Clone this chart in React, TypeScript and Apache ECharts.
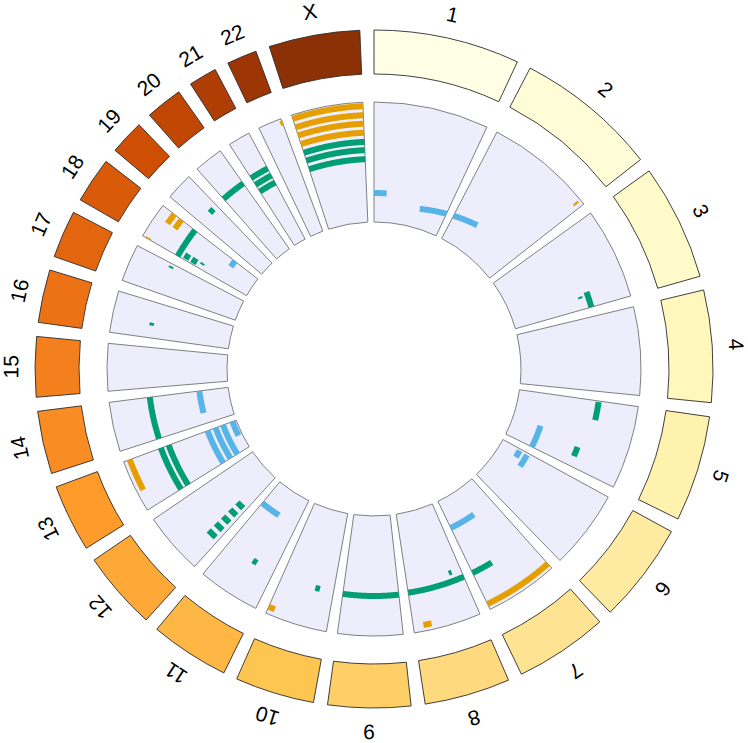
import React, { useEffect, useRef } from 'react';
import * as echarts from 'echarts';

// ---------- data ----------
const chromosomes = ['1', '2', '3', '4', '5', '6', '7', '8', '9', '10', '11', '12', '13', '14', '15', '16', '17', '18', '19', '20', '21', '22', 'X'];
const chromLengthsMb = [249.25, 243.2, 198.02, 191.15, 180.92, 171.12, 159.14, 146.36, 141.21, 135.53, 135.01, 133.85, 115.17, 107.35, 102.53, 90.35, 81.2, 78.08, 59.13, 63.03, 48.13, 51.3, 155.27];
const gapMb = 23.9;
const trackMax = 120;

// [chromosome, startMb, endMb, levelAtStart, levelAtEnd, weightClass]
type Seg = [string, number, number, number, number, number];

const orangeSegments: Seg[] = [
  ['X', 0, 155.27, 116, 116, 3],
  ['X', 0, 155.27, 107, 107, 3],
  ['X', 0, 155.27, 98.5, 98.5, 3],
  ['X', 0, 155.27, 89.5, 89.5, 3],
  ['22', 49.5, 49.5, 113, 118, 2],
  ['2', 229, 234, 114, 114, 3],
  ['7', 0, 159.14, 114, 114, 3],
  ['8', 106, 124, 113.7, 113.7, 3],
  ['10', 121, 135.53, 113, 113, 3],
  ['13', 42.5, 115.17, 113.5, 113.5, 3],
  ['18', 0, 3, 113.7, 113.7, 3],
  ['18', 52, 78.08, 105.6, 105.6, 3],
  ['18', 52, 78.08, 96.5, 96.5, 3],
];

const greenSegments: Seg[] = [
  ['X', 0, 155.27, 80.3, 80.3, 3],
  ['X', 0, 155.27, 72, 72, 3],
  ['X', 0, 155.27, 63, 63, 3],
  ['3', 157.6, 198.02, 79, 79, 3],
  ['3', 166.4, 166.4, 69, 73.5, 1],
  ['5', 3, 49, 80, 80, 3],
  ['5', 128, 154, 71, 71, 3],
  ['7', 104, 159.14, 79.5, 79.5, 3],
  ['8', 0, 146.36, 79.3, 79.3, 3],
  ['8', 28.7, 28.7, 68, 73, 2],
  ['9', 0, 141.21, 80, 80, 3],
  ['10', 35, 47, 79.5, 79.5, 3],
  ['11', 48, 60, 79.5, 79.5, 3],
  ['12', 10, 34, 84, 84, 3],
  ['12', 10, 34, 74, 74, 3],
  ['12', 10, 34, 64, 64, 3],
  ['12', 10, 34, 54, 54, 3],
  ['12', 10, 34, 44, 44, 3],
  ['13', 0, 115.17, 80.3, 80.3, 3],
  ['13', 0, 115.17, 72, 72, 3],
  ['14', 0, 107.35, 79, 79, 3],
  ['16', 34.8, 34.8, 77.5, 82, 2],
  ['17', 72, 72, 77.5, 82.5, 1],
  ['18', 0, 78.08, 79.5, 79.5, 3],
  ['18', 3, 18.5, 71, 71, 3],
  ['18', 3, 19, 62.6, 62.6, 3],
  ['18', 15.6, 15.6, 52, 56.5, 1],
  ['19', 34, 47, 79.5, 79.5, 3],
  ['20', 0, 63.03, 80, 80, 3],
  ['21', 0, 48.13, 80, 80, 3],
  ['21', 0, 48.13, 72, 72, 3],
  ['21', 0, 48.13, 64, 64, 3],
];

const blueSegments: Seg[] = [
  ['1', 0, 41, 29, 29, 3],
  ['1', 159, 249.25, 19.5, 24.3, 3],
  ['2', 0, 82.5, 25.6, 30, 3],
  ['5', 106.6, 180.92, 29, 29, 3],
  ['6', 6, 32, 20, 20, 3],
  ['6', 7, 50, 28.5, 28.5, 3],
  ['7', 72.7, 159.14, 29.5, 29.5, 3],
  ['11', 67, 135.01, 27.5, 27.5, 3],
  ['13', 0, 115.17, 30.5, 30.5, 3],
  ['13', 0, 115.17, 22, 22, 3],
  ['13', 0, 115.17, 14, 14, 3],
  ['13', 57, 115.17, 4, 4, 3],
  ['14', 34.5, 107.35, 29, 29, 3],
  ['18', 56, 78.08, 29, 29, 3],
];

// ---------- styles ----------
const groupColors = ['#E69F00', '#009E73', '#56B4E9'];
const weightWidths: Record<number, number> = { 1: 2, 2: 3, 3: 6 };
const ylorbr = ['#ffffe5', '#fff7bc', '#fee391', '#fec44f', '#fe9929', '#ec7014', '#cc4c02', '#993404', '#662506'];

function hexToRgb(h: string) {
  return [parseInt(h.slice(1, 3), 16), parseInt(h.slice(3, 5), 16), parseInt(h.slice(5, 7), 16)];
}
function rampColor(t: number) {
  const pos = t * (ylorbr.length - 1);
  const i = Math.min(ylorbr.length - 2, Math.floor(pos));
  const f = pos - i;
  const a = hexToRgb(ylorbr[i]);
  const b = hexToRgb(ylorbr[i + 1]);
  const c = a.map((v, k) => Math.round(v + (b[k] - v) * f));
  return `rgb(${c[0]},${c[1]},${c[2]})`;
}

export default function App() {
  const ref = useRef<HTMLDivElement>(null);

  useEffect(() => {
    if (!ref.current) return;
    const chart = echarts.init(ref.current, null, { renderer: 'svg' });

    const offsets: number[] = [];
    let acc = 0;
    chromLengthsMb.forEach((len) => {
      offsets.push(acc);
      acc += len + gapMb;
    });
    const total = acc;
    const idxOf = (c: string) => chromosomes.indexOf(c);

    const chromData = chromosomes.map((c, i) => [offsets[i], offsets[i] + chromLengthsMb[i], i]);

    const featData: number[][] = [];
    [orangeSegments, greenSegments, blueSegments].forEach((segs, gi) => {
      segs.forEach(([c, s, e, y0, y1, w]) => {
        const o = offsets[idxOf(c)];
        featData.push([o + s, o + e, y0, y1, w, gi]);
      });
    });

    const sectorShape = (params: any, api: any, g0: number, g1: number, v0: number, v1: number) => {
      const c0 = api.coord([v0, g0]);
      const c1 = api.coord([v1, g1]);
      let sa = -c0[3];
      let ea = -c1[3];
      while (ea < sa) ea += Math.PI * 2;
      while (ea - sa > Math.PI * 2) ea -= Math.PI * 2;
      return {
        cx: params.coordSys.cx,
        cy: params.coordSys.cy,
        r0: c0[2],
        r: c1[2],
        startAngle: sa,
        endAngle: ea,
        clockwise: true,
      };
    };

    const option: any = {
      animation: false,
      backgroundColor: '#ffffff',
      polar: [
        { center: [374, 369], radius: [295, 339] },
        { center: [374, 369], radius: [147, 267] },
      ],
      angleAxis: [
        { polarIndex: 0, type: 'value', min: 0, max: total, startAngle: 90, clockwise: true, show: false },
        { polarIndex: 1, type: 'value', min: 0, max: total, startAngle: 90, clockwise: true, show: false },
      ],
      radiusAxis: [
        { polarIndex: 0, type: 'value', min: 0, max: 1, show: false },
        { polarIndex: 1, type: 'value', min: 0, max: trackMax, show: false },
      ],
      series: [
        {
          type: 'custom',
          name: 'ideogram',
          coordinateSystem: 'polar',
          polarIndex: 0,
          data: chromData,
          z: 2,
          renderItem: (params: any, api: any) => {
            const g0 = api.value(0);
            const g1 = api.value(1);
            const i = api.value(2);
            const mid = (g0 + g1) / 2;
            const lp = api.coord([1.55, mid]);
            return {
              type: 'group',
              children: [
                {
                  type: 'sector',
                  shape: sectorShape(params, api, g0, g1, 0, 1),
                  style: { fill: rampColor((i / 22) * (7.25 / 8)), stroke: '#2b2b2b', lineWidth: 0.9 },
                },
                {
                  type: 'text',
                  x: lp[0],
                  y: lp[1],
                  rotation: lp[3] - Math.PI / 2,
                  style: {
                    text: chromosomes[i],
                    fill: '#000000',
                    fontSize: 21,
                    fontFamily: 'Liberation Sans, Arial, sans-serif',
                    align: 'center',
                    verticalAlign: 'middle',
                  },
                },
              ],
            };
          },
        },
        {
          type: 'custom',
          name: 'track',
          coordinateSystem: 'polar',
          polarIndex: 1,
          data: chromData,
          z: 2,
          renderItem: (params: any, api: any) => {
            const g0 = api.value(0);
            const g1 = api.value(1);
            return {
              type: 'sector',
              shape: sectorShape(params, api, g0, g1, 0, trackMax),
              style: { fill: '#ededfc', stroke: '#808080', lineWidth: 1 },
            };
          },
        },
        {
          type: 'custom',
          name: 'segments',
          coordinateSystem: 'polar',
          polarIndex: 1,
          data: featData,
          z: 3,
          renderItem: (params: any, api: any) => {
            const g0 = api.value(0);
            const g1 = api.value(1);
            const y0 = api.value(2);
            const y1 = api.value(3);
            const w = api.value(4);
            const gi = api.value(5);
            const n = Math.max(2, Math.ceil(Math.abs(g1 - g0) / 1.5) + 1);
            const pts: number[][] = [];
            for (let k = 0; k < n; k++) {
              const t = k / (n - 1);
              const c = api.coord([y0 + (y1 - y0) * t, g0 + (g1 - g0) * t]);
              pts.push([c[0], c[1]]);
            }
            return {
              type: 'polyline',
              shape: { points: pts },
              style: { stroke: groupColors[gi], lineWidth: weightWidths[w], fill: null, lineCap: 'butt', lineJoin: 'round' },
            };
          },
        },
      ],
    };

    chart.setOption(option);
    return () => chart.dispose();
  }, []);

  return <div ref={ref} style={{ position: 'absolute', left: 0, top: 0, width: 748, height: 743 }} />;
}
